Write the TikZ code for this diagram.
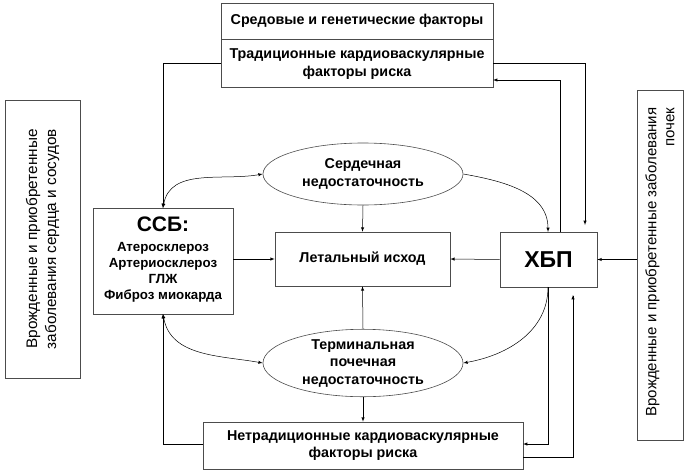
\documentclass[tikz,border=0pt]{standalone}
\usepackage{fontspec}
\setmainfont{Liberation Sans}
\usetikzlibrary{shapes.geometric}
\begin{document}
\begin{tikzpicture}[x=1pt,y=-1pt,
  bx/.style={draw=black!70,line width=0.6pt,inner sep=0pt},
  el/.style={draw=black!70,line width=0.6pt,ellipse,inner sep=0pt},
  ar/.style={line width=0.5pt,-latex},
  ab/.style={line width=0.5pt,latex-latex},
  t/.style={font=\bfseries\fontsize{14.3}{17.5}\selectfont,align=center}]
\useasboundingbox (0,0) rectangle (690,474);
\node[bx,minimum width=272pt,minimum height=84pt] (top) at (357,45) {};
\draw[draw=black!70,line width=0.6pt] (221,39) -- (493,39);
\node[t] (topa) at (357,21) {Средовые и генетические факторы};
\node[t] (topb) at (357,64) {Традиционные кардиоваскулярные\\факторы риска};
\node[bx,minimum width=75pt,minimum height=278pt] (lb) at (42.5,239) {};
\node[rotate=90,align=center,font=\fontsize{15.3}{19}\selectfont] (lbt) at (42.5,239) {Врожденные и приобретенные\\заболевания сердца и сосудов};
\node[bx,minimum width=46pt,minimum height=350pt] (rb) at (660,265) {};
\node[rotate=90,align=right,font=\fontsize{15}{18}\selectfont] (rbt) at (660,262) {Врожденные и приобретенные заболевания\\почек};
\node[bx,minimum width=140pt,minimum height=106pt] (ssb) at (163,261) {};
\node[align=center,font=\bfseries\fontsize{21}{24}\selectfont] (ssbt) at (163,224) {ССБ:};
\node[align=center,font=\bfseries\fontsize{13.3}{16}\selectfont] (ssbl) at (163,272) {Атеросклероз\\Артериосклероз\\ГЛЖ\\Фиброз миокарда};
\node[bx,minimum width=175pt,minimum height=54pt,t] (let) at (362.5,259) {Летальный исход};
\node[bx,minimum width=97pt,minimum height=55pt,font=\bfseries\fontsize{23}{26}\selectfont] (hbp) at (548.5,259.5) {ХБП};
\node[el,minimum width=200pt,minimum height=62pt,t] (hf) at (363,174) {Сердечная\\недостаточность};
\node[el,minimum width=200pt,minimum height=67pt,t] (tn) at (363,363) {Терминальная\\почечная\\недостаточность};
\node[bx,minimum width=320pt,minimum height=47pt,t] (bot) at (363,445.5) {Нетрадиционные кардиоваскулярные\\факторы риска};
\coordinate (ssbT) at (163,208);
\coordinate (ssbB) at (163,314);
\draw[ar] (top.west |- 0,63) -| (ssbT);
\draw[ar] (top.east |- 0,63) -| (585,225);
\draw[ar] (560,232) |- (493,80);
\draw[ab] (hf.west) to[out=190,in=80] (ssbT);
\draw[ar] (hf.east) to[out=-10,in=90] (548,232);
\draw[ar] (hf.south) -- (let.north);
\draw[ar] (ssb.east |- let.west) -- (let.west);
\draw[ar] (hbp.west) -- (let.east);
\draw[ar] (rb.west |- hbp.east) -- (hbp.east);
\draw[ar] (tn.north) -- (let.south);
\draw[ab] (ssbB) to[out=-80,in=170] (tn.west);
\draw[ar] (548,287) to[out=-90,in=10] (tn.east);
\draw[ar] (548,287) |- (523,444);
\draw (523,457) -| (573,296);
\draw[ar] (573,300) -- (573,295);
\draw[ar] (tn.south) -- (bot.north);
\draw[ar] (203,444) -| (ssbB);
\end{tikzpicture}
\end{document}
